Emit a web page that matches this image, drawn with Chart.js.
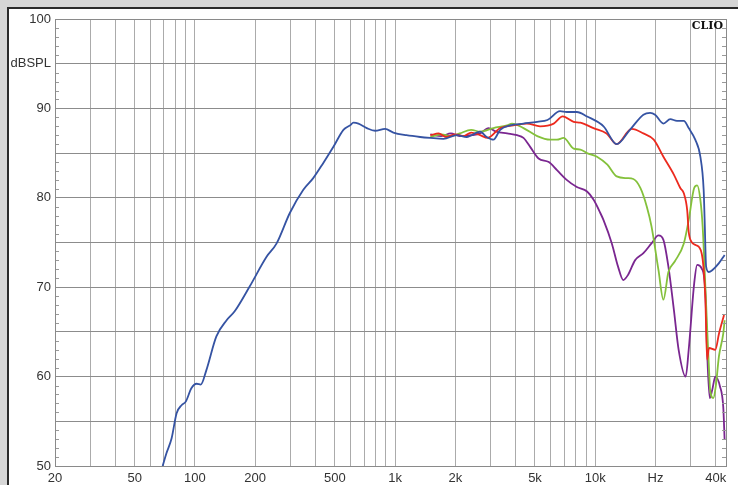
<!DOCTYPE html>
<html lang="en">
<head>
  <meta charset="UTF-8">
  <title>CLIO frequency response</title>
  <script src="https://cdn.jsdelivr.net/npm/chart.js"></script>
  <style>
    body { margin: 0; background: #d6d6d6; }
    canvas { display: block; }
  </style>
</head>
<body>
  <canvas id="clio" width="738" height="485"></canvas>

  <script>
    // axis ticks and labels
    const xTicks = [20, 30, 40, 50, 60, 70, 80, 90, 100, 200, 300, 400, 500, 600, 700, 800, 900,
      1000, 2000, 3000, 4000, 5000, 6000, 7000, 8000, 9000, 10000, 20000, 30000, 40000];
    const xLabelValues = [20, 50, 100, 200, 500, 1000, 2000, 5000, 10000, 20000, 40000];
    const xLabelTexts = ['20', '50', '100', '200', '500', '1k', '2k', '5k', '10k', 'Hz', '40k'];
    const yLabelValues = [100, 95, 90, 80, 70, 60, 50];
    const yLabelTexts = ['100', 'dBSPL', '90', '80', '70', '60', '50'];

    // blue curve
    const blueF = [69, 72, 76.5, 81, 85.8, 90, 96, 102, 107, 114, 128, 144, 158, 188, 228, 256, 298, 348, 390, 438,
      492, 552, 595, 620, 656, 722, 794, 892, 980, 1140, 1334, 1497, 1745, 2036, 2280, 2660, 2870, 3100, 3350, 3760,
      4380, 5130, 5770, 6670, 7200, 8090, 9100, 11000, 12800, 14900, 17400, 18800, 19900, 21900, 23700, 25600, 27700,
      29300, 31600, 33500, 34800, 35200, 35800, 36900, 38400, 41500, 44300];
    const blueDb = [50, 51.4, 53.1, 55.9, 56.8, 57.2, 58.7, 59.2, 59.1, 60.7, 64.5, 66.3, 67.3, 70.1, 73.4, 74.9, 78.3, 80.9, 82.2, 83.9,
      85.7, 87.6, 88.1, 88.4, 88.3, 87.8, 87.5, 87.7, 87.3, 87.0, 86.8, 86.7, 86.6, 87.0, 86.8, 87.4, 86.8, 86.5, 87.6, 88.1,
      88.3, 88.5, 88.7, 89.7, 89.6, 89.6, 89.1, 88.0, 86.0, 87.6, 89.3, 89.5, 89.3, 88.3, 88.8, 88.6, 88.6,
      87.8, 86.5, 84.6, 80.9, 77.5, 72.3, 71.7, 71.9, 72.7, 73.6];

    // red curve
    const redF = [1500, 1650, 1800, 2000, 2200, 2400, 2660, 2900, 3350, 3900, 4560, 5300, 6200, 6880, 7800, 8430, 9800,
      11400, 12800, 15200, 17400, 19600, 21900, 24700, 26600, 27700, 28800, 29300, 30200, 31900, 34000, 35500, 36200,
      37000, 39800, 41500, 44000];
    const redDb = [87.0, 87.2, 86.8, 87.1, 86.9, 87.3, 87.0, 86.7, 87.8, 88.1, 88.3, 88.0, 88.3, 89.1, 88.5, 88.4, 87.8,
      87.2, 86.0, 87.7, 87.2, 86.5, 84.6, 82.6, 81.1, 80.5, 78.6, 76.2, 75.1, 74.7, 73.8, 68.6, 61.9,
      63.2, 63.0, 64.8, 66.9];

    // green curve
    const greenF = [1500, 1700, 1900, 2100, 2400, 2660, 3100, 3630, 3840, 4380, 5130, 5960, 6440, 6950, 7800, 8430, 9100,
      10200, 11500, 12800, 14400, 15500, 16800, 18100, 19100, 20700, 21900, 23200, 25000, 27700, 29300, 31200, 32300,
      33500, 34400, 35500, 36200, 36900, 37500, 38900, 40000, 41500, 43600, 44300];
    const greenDb = [86.8, 87.1, 86.9, 87.2, 87.6, 87.4, 87.8, 88.1, 88.3, 87.8, 86.9, 86.5, 86.5, 86.7, 85.5, 85.4, 85.0,
      84.6, 83.7, 82.4, 82.2, 82.1, 81.1, 79.0, 76.8, 71.9, 68.6, 71.7, 72.9, 74.9, 77.5, 81.1, 81.4,
      79.8, 76.8, 70.0, 65.6, 61.5, 58.5, 57.6, 58.9, 62.3, 64.8, 66.3];

    // purple curve
    const purpleF = [1500, 1700, 1900, 2100, 2400, 2660, 2930, 3200, 3630, 4070, 4380, 4730, 5210, 5860, 6440, 7200, 8090,
      9100, 9800, 10600, 11000, 12100, 13000, 13800, 14600, 15800, 17400, 19100, 20700, 21900, 23200, 24700, 26100,
      28300, 29300, 31200, 32300, 34000, 35500, 36200, 37300, 38400, 39800, 42000, 43600, 44300];
    const purpleDb = [87.1, 86.9, 87.2, 86.9, 87.0, 87.2, 87.8, 87.4, 87.2, 87.0, 86.7, 85.7, 84.4, 84.0, 83.1, 82.0, 81.2,
      80.7, 79.8, 78.3, 77.5, 74.9, 72.3, 70.8, 71.4, 73.0, 73.8, 74.9, 75.8, 75.3, 72.3, 67.5, 63.0,
      60.0, 63.0, 70.4, 72.5, 72.1, 69.3, 63.0, 57.6, 58.5, 60.0, 58.9, 56.6, 52.9];

    function pts(f, db) {
      return f.map((v, i) => ({ x: v, y: db[i] }));
    }

    function line(f, db, color) {
      return {
        data: pts(f, db),
        borderColor: color,
        borderWidth: 1.8,
        pointRadius: 0,
        cubicInterpolationMode: 'monotone',
        fill: false
      };
    }

    // gray surround, dark frame, white panel, plot frame, minor ticks, logo
    const decor = {
      id: 'decor',
      beforeDraw(chart) {
        const c = chart.ctx;
        const w = chart.width, h = chart.height;
        c.save();
        c.fillStyle = '#d6d6d6';
        c.fillRect(0, 0, w, h);
        c.fillStyle = '#ffffff';
        c.fillRect(9, 9, w - 9, h - 9);
        c.fillStyle = '#2a2a2a';
        c.fillRect(7, 7, w - 7, 2);
        c.fillRect(7, 7, 2, h - 7);
        c.restore();
      },
      afterDraw(chart) {
        const c = chart.ctx;
        const a = chart.chartArea;
        const ys = chart.scales.y;
        c.save();
        c.strokeStyle = '#999';
        c.lineWidth = 1;
        c.beginPath();
        for (let v = 51; v < 100; v++) {
          if (v % 5 === 0) continue;
          const y = Math.round(ys.getPixelForValue(v)) + 0.5;
          c.moveTo(a.left, y); c.lineTo(a.left + 4, y);
          c.moveTo(a.right - 4, y); c.lineTo(a.right, y);
        }
        c.stroke();
        c.strokeStyle = '#8a8a8a';
        c.strokeRect(Math.round(a.left) + 0.5, Math.round(a.top) + 0.5,
          Math.round(a.right - a.left), Math.round(a.bottom - a.top));
        c.fillStyle = '#111';
        c.font = 'bold 11px "DejaVu Serif"';
        c.textAlign = 'right';
        c.textBaseline = 'alphabetic';
        c.fillText('CLIO', 723, 29);
        c.restore();
      }
    };

    new Chart(document.getElementById('clio'), {
      type: 'line',
      data: {
        datasets: [
          line(blueF, blueDb, '#3553a3'),
          line(redF, redDb, '#ec2a1e'),
          line(greenF, greenDb, '#84c13b'),
          line(purpleF, purpleDb, '#7a2690')
        ]
      },
      options: {
        responsive: false,
        animation: false,
        layout: { padding: { left: 0, right: 12, top: 19, bottom: 0 } },
        plugins: { legend: { display: false }, tooltip: { enabled: false } },
        scales: {
          x: {
            type: 'logarithmic',
            min: 20,
            max: 45000,
            afterBuildTicks: (axis) => { axis.ticks = xTicks.map(v => ({ value: v })); },
            afterFit: (axis) => { axis.height = 19; },
            grid: { color: '#ababab', drawTicks: false },
            border: { display: false },
            ticks: {
              autoSkip: false,
              maxRotation: 0,
              padding: 5,
              color: '#333',
              font: { family: 'Liberation Sans', size: 13 },
              callback: (v) => {
                const i = xLabelValues.indexOf(v);
                return i >= 0 ? xLabelTexts[i] : '';
              }
            }
          },
          y: {
            type: 'linear',
            min: 50,
            max: 100,
            afterFit: (axis) => { axis.width = 55; },
            grid: { color: '#8c8c8c', drawTicks: false },
            border: { display: true, color: '#555' },
            ticks: {
              stepSize: 5,
              padding: 4,
              color: '#333',
              font: { family: 'Liberation Sans', size: 13 },
              callback: (v) => {
                const i = yLabelValues.indexOf(v);
                return i >= 0 ? yLabelTexts[i] : '';
              }
            }
          }
        }
      },
      plugins: [decor]
    });
  </script>
</body>
</html>
